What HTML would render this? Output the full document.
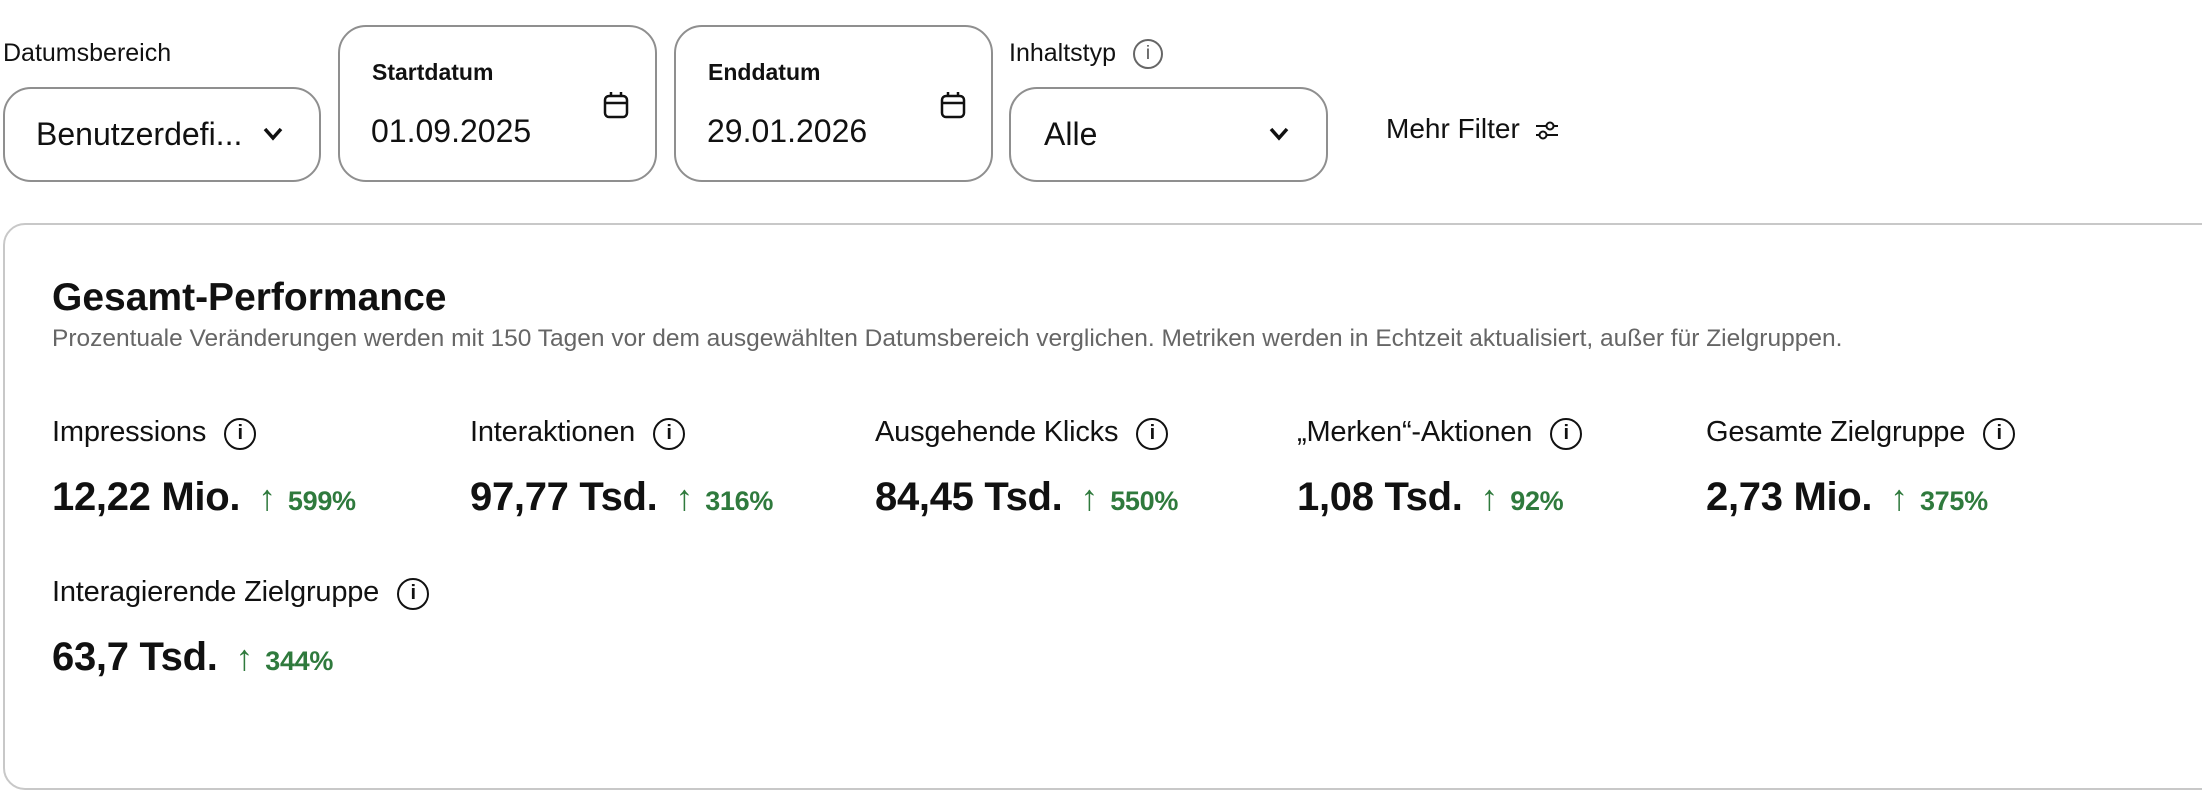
<!DOCTYPE html>
<html><head><meta charset="utf-8"><style>
*{margin:0;padding:0;box-sizing:border-box}
body{width:2202px;height:806px;background:#fff;position:relative;overflow:hidden;font-family:"Liberation Sans",sans-serif;color:#111}
.a{position:absolute;white-space:nowrap}
.box{position:absolute;border:2px solid #8f8f8f;border-radius:28px;background:#fff}
.lbl{font-size:25px;line-height:30px;color:#111}
.val{font-size:32px;line-height:40px}
.ml{font-size:29px;line-height:36px;letter-spacing:-0.2px}
.mv{font-size:40px;line-height:46px;font-weight:bold;letter-spacing:-0.3px}
.pc{color:#2f7a3d;font-size:27px;font-weight:bold;margin-left:12px}
.arr{color:#2f7a3d;font-weight:normal;font-size:36px;margin-left:18px}
.info{display:inline-block;width:32px;height:32px;border:2.5px solid #111;border-radius:50%;font-size:20px;line-height:27px;text-align:center;font-weight:bold;vertical-align:2px;margin-left:18px}
</style></head><body>
<div class="a lbl" style="left:3px;top:38px">Datumsbereich</div>
<div class="box" style="left:3px;top:87px;width:318px;height:95px"></div>
<div class="a val" style="left:36px;top:114px">Benutzerdefi...</div>
<svg class="a" style="left:262px;top:126px" width="22" height="16"><polyline points="3,3 11,12 19,3" fill="none" stroke="#111" stroke-width="3.5"/></svg>

<div class="box" style="left:338px;top:25px;width:319px;height:157px"></div>
<div class="a lbl" style="left:372px;top:57px;font-weight:bold;font-size:23px">Startdatum</div>
<div class="a val" style="left:371px;top:111px">01.09.2025</div>
<svg class="a" style="left:602px;top:90px" width="28" height="30"><rect x="3" y="6" width="22" height="21" rx="4" fill="none" stroke="#111" stroke-width="2.5"/><line x1="3" y1="13" x2="25" y2="13" stroke="#111" stroke-width="2.5"/><line x1="9" y1="2" x2="9" y2="7" stroke="#111" stroke-width="2.5"/><line x1="19" y1="2" x2="19" y2="7" stroke="#111" stroke-width="2.5"/></svg>

<div class="box" style="left:674px;top:25px;width:319px;height:157px"></div>
<div class="a lbl" style="left:708px;top:57px;font-weight:bold;font-size:23px">Enddatum</div>
<div class="a val" style="left:707px;top:111px">29.01.2026</div>
<svg class="a" style="left:939px;top:90px" width="28" height="30"><rect x="3" y="6" width="22" height="21" rx="4" fill="none" stroke="#111" stroke-width="2.5"/><line x1="3" y1="13" x2="25" y2="13" stroke="#111" stroke-width="2.5"/><line x1="9" y1="2" x2="9" y2="7" stroke="#111" stroke-width="2.5"/><line x1="19" y1="2" x2="19" y2="7" stroke="#111" stroke-width="2.5"/></svg>

<div class="a lbl" style="left:1009px;top:38px">Inhaltstyp</div>
<div class="a" style="left:1133px;top:39px;width:30px;height:30px;border:2.5px solid #666;border-radius:50%;font-size:19px;line-height:25px;text-align:center;color:#555">i</div>
<div class="box" style="left:1009px;top:87px;width:319px;height:95px"></div>
<div class="a val" style="left:1044px;top:114px">Alle</div>
<svg class="a" style="left:1268px;top:126px" width="22" height="16"><polyline points="3,3 11,12 19,3" fill="none" stroke="#111" stroke-width="3.5"/></svg>

<div class="a" style="left:1386px;top:114px;font-size:28px;line-height:30px">Mehr Filter</div>
<svg class="a" style="left:1534px;top:118px" width="26" height="24"><line x1="2" y1="8" x2="24" y2="8" stroke="#111" stroke-width="2"/><line x1="2" y1="17" x2="24" y2="17" stroke="#111" stroke-width="2"/><circle cx="16" cy="8" r="3.5" fill="#fff" stroke="#111" stroke-width="2"/><circle cx="9" cy="17" r="3.5" fill="#fff" stroke="#111" stroke-width="2"/></svg>

<div class="box" style="left:3px;top:223px;width:2260px;height:567px;border-radius:22px;border-color:#c8c8c8"></div>
<div class="a" style="left:52px;top:275px;font-size:39px;line-height:46px;font-weight:bold">Gesamt-Performance</div>
<div class="a" style="left:52px;top:324px;font-size:24.5px;line-height:30px;color:#666">Prozentuale Veränderungen werden mit 150 Tagen vor dem ausgewählten Datumsbereich verglichen. Metriken werden in Echtzeit aktualisiert, außer für Zielgruppen.</div>

<div class="a ml" style="left:52px;top:414px">Impressions<span class="info">i</span></div>
<div class="a mv" style="left:52px;top:474px">12,22 Mio.<span class="arr">↑</span><span class="pc">599%</span></div>
<div class="a ml" style="left:470px;top:414px">Interaktionen<span class="info">i</span></div>
<div class="a mv" style="left:470px;top:474px">97,77 Tsd.<span class="arr">↑</span><span class="pc">316%</span></div>
<div class="a ml" style="left:875px;top:414px">Ausgehende Klicks<span class="info">i</span></div>
<div class="a mv" style="left:875px;top:474px">84,45 Tsd.<span class="arr">↑</span><span class="pc">550%</span></div>
<div class="a ml" style="left:1297px;top:414px">„Merken“-Aktionen<span class="info">i</span></div>
<div class="a mv" style="left:1297px;top:474px">1,08 Tsd.<span class="arr">↑</span><span class="pc">92%</span></div>
<div class="a ml" style="left:1706px;top:414px">Gesamte Zielgruppe<span class="info">i</span></div>
<div class="a mv" style="left:1706px;top:474px">2,73 Mio.<span class="arr">↑</span><span class="pc">375%</span></div>
<div class="a ml" style="left:52px;top:574px">Interagierende Zielgruppe<span class="info">i</span></div>
<div class="a mv" style="left:52px;top:634px">63,7 Tsd.<span class="arr">↑</span><span class="pc">344%</span></div>
</body></html>
